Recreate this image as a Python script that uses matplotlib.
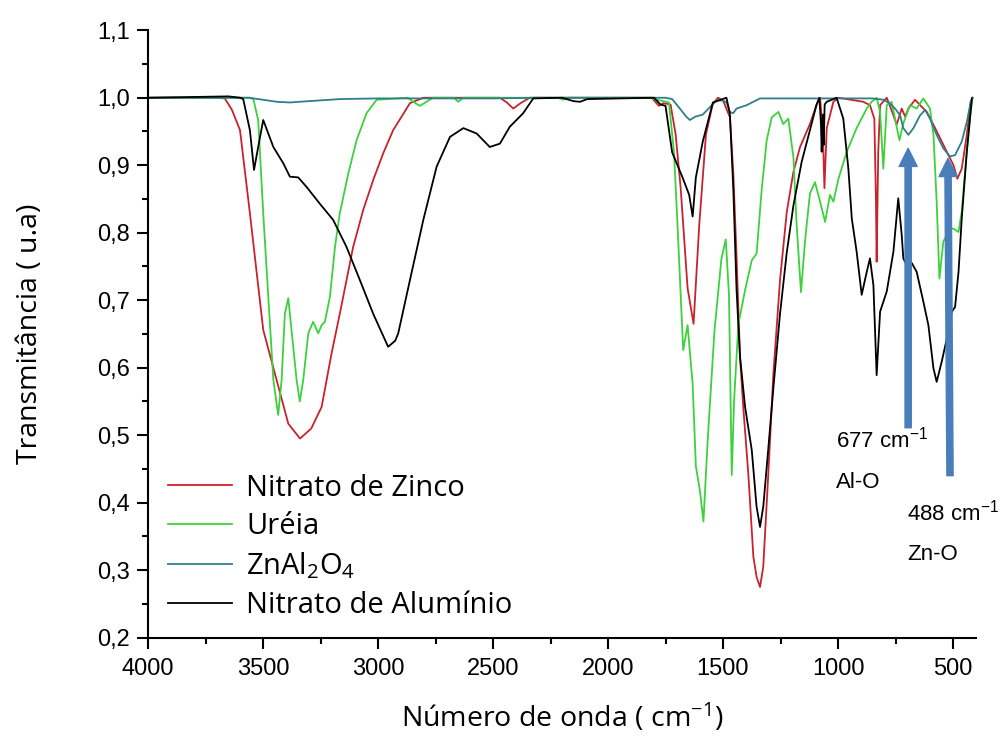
import matplotlib
matplotlib.use("Agg")
import matplotlib.pyplot as plt
from matplotlib.ticker import MultipleLocator, FuncFormatter

plt.rcParams['font.family'] = ['Liberation Sans', 'DejaVu Sans']
plt.rcParams['mathtext.default'] = 'regular'

# --- data ---
series_names = ["Nitrato de Zinco", "Uréia", "ZnAl$_2$O$_4$", "Nitrato de Alumínio"]
series_colors = ["#c8232c", "#3cd23c", "#2f7f8a", "#000000"]

wn_zinco = [4000, 3700, 3666, 3635, 3600, 3557, 3499, 3441, 3390, 3339, 3290, 3245, 3202, 3166,
            3108, 3064, 3021, 2977, 2934, 2861, 2803, 2470, 2440, 2412, 2380, 2340, 1810, 1779,
            1760, 1728, 1706, 1684, 1654, 1628, 1603, 1574, 1545, 1522, 1500, 1470, 1455, 1441,
            1426, 1412, 1390, 1368, 1354, 1339, 1325, 1303, 1281, 1252, 1223, 1194, 1165, 1122,
            1093, 1078, 1066, 1059, 1049, 1020, 998, 890, 861, 842, 835, 832, 825, 817, 788, 759,
            745, 723, 708, 694, 665, 643, 614, 585, 556, 527, 498, 481, 462, 440, 423, 415]
t_zinco = [1.0, 1.0, 0.999, 0.982, 0.952, 0.829, 0.656, 0.582, 0.517, 0.495, 0.51, 0.542, 0.621, 0.68,
           0.779, 0.834, 0.878, 0.918, 0.952, 0.992, 1.0, 1.0, 0.993, 0.984, 0.992, 1.0, 1.0, 0.988,
           0.992, 0.99, 0.946, 0.866, 0.718, 0.665, 0.813, 0.946, 0.99, 1.0, 0.996, 0.971, 0.887, 0.764,
           0.616, 0.542, 0.443, 0.32, 0.29, 0.275, 0.305, 0.443, 0.591, 0.73, 0.83, 0.89, 0.927, 0.961,
           0.99, 1.0, 0.95, 0.866, 0.955, 0.994, 1.0, 0.994, 0.989, 0.969, 0.85, 0.757, 0.92, 0.989, 1.0, 0.974,
           0.96, 0.984, 0.972, 0.984, 0.997, 0.989, 0.979, 0.96, 0.94, 0.92, 0.90, 0.88, 0.895, 0.945, 0.994, 1.0]

wn_ureia = [4000, 3560, 3542, 3521, 3499, 3477, 3455, 3434, 3419, 3405, 3390, 3376, 3354, 3340,
            3325, 3303, 3282, 3260, 3245, 3231, 3209, 3187, 3166, 3129, 3093, 3050, 3006, 2870,
            2847, 2818, 2789, 2760, 2670, 2651, 2630, 2220, 2195, 2170, 1823, 1735, 1713, 1698,
            1684, 1673, 1654, 1632, 1618, 1600, 1585, 1566, 1537, 1507, 1488, 1474, 1462, 1452,
            1433, 1404, 1375, 1354, 1332, 1310, 1288, 1259, 1238, 1216, 1194, 1180, 1161, 1143,
            1122, 1100, 1078, 1056, 1035, 1020, 998, 962, 919, 875, 854, 832, 817, 803, 788, 767,
            752, 733, 716, 687, 658, 629, 600, 585, 571, 559, 542, 513, 498, 476, 462, 440, 423, 415]
t_ureia = [1.0, 1.0, 0.998, 0.967, 0.829, 0.705, 0.582, 0.53, 0.582, 0.68, 0.703, 0.656, 0.582, 0.55,
           0.582, 0.651, 0.668, 0.651, 0.663, 0.668, 0.705, 0.779, 0.829, 0.888, 0.937, 0.977, 0.997, 1.0,
           0.994, 0.988, 0.994, 1.0, 1.0, 0.994, 1.0, 1.0, 0.997, 1.0, 1.0, 0.993, 0.919, 0.813,
           0.708, 0.626, 0.663, 0.576, 0.454, 0.417, 0.372, 0.496, 0.655, 0.761, 0.79, 0.708, 0.441, 0.55,
           0.665, 0.715, 0.759, 0.769, 0.863, 0.937, 0.971, 0.979, 0.961, 0.969, 0.912, 0.813, 0.712, 0.789,
           0.858, 0.875, 0.846, 0.816, 0.856, 0.846, 0.88, 0.92, 0.955, 0.984, 0.994, 1.0, 0.979, 0.895, 0.989, 0.994,
           0.969, 0.937, 0.962, 0.989, 0.984, 0.999, 0.984, 0.945, 0.846, 0.732, 0.787, 0.806, 0.806, 0.801, 0.831, 0.92, 0.979, 1.0]

wn_znal = [4000, 3560, 3500, 3440, 3383, 3300, 3166, 3000, 2500, 2300, 1750, 1721, 1690, 1660, 1644,
           1620, 1588, 1560, 1529, 1500, 1485, 1470, 1456, 1441, 1397, 1339, 1000, 850, 800, 770, 752,
           730, 716, 694, 672, 643, 621, 600, 571, 542, 513, 491, 462, 440, 423, 415]
t_znal = [1.0, 1.0, 0.997, 0.994, 0.993, 0.995, 0.998, 0.999, 0.999, 1.0, 1.0, 0.998, 0.985, 0.972, 0.967,
          0.972, 0.975, 0.985, 0.996, 0.996, 0.993, 0.979, 0.977, 0.984, 0.989, 0.999, 0.999, 0.999, 0.997, 0.99, 0.984,
          0.974, 0.955, 0.945, 0.955, 0.974, 0.982, 0.969, 0.945, 0.925, 0.913, 0.915, 0.935, 0.964, 0.994, 1.0]

wn_aluminio = [4000, 3650, 3600, 3586, 3557, 3539, 3521, 3499, 3477, 3455, 3412, 3383, 3347, 3311,
               3253, 3195, 3137, 3079, 3021, 2956, 2925, 2912, 2861, 2803, 2745, 2687, 2629, 2571,
               2514, 2470, 2427, 2369, 2325, 2200, 2150, 2122, 2090, 1800, 1772, 1750, 1721, 1676,
               1647, 1632, 1618, 1588, 1544, 1485, 1470, 1455, 1441, 1426, 1404, 1375, 1354, 1339,
               1325, 1303, 1281, 1252, 1223, 1194, 1158, 1122, 1093, 1081, 1074, 1071, 1066, 1062,
               1058, 1049, 1006, 977, 955, 940, 919, 897, 875, 861, 846, 832, 817, 788, 759, 738,
               723, 716, 701, 679, 658, 629, 607, 585, 571, 549, 527, 505, 491, 476, 462, 440, 418]
t_aluminio = [1.0, 1.002, 1.0, 0.998, 0.952, 0.893, 0.927, 0.967, 0.947, 0.927, 0.903, 0.883, 0.882, 0.868,
              0.843, 0.819, 0.779, 0.73, 0.68, 0.631, 0.64, 0.651, 0.73, 0.819, 0.898, 0.942, 0.955, 0.947,
              0.927, 0.932, 0.957, 0.977, 0.999, 1.0, 0.995, 0.994, 0.998, 1.0, 0.99, 0.988, 0.919, 0.882,
              0.856, 0.824, 0.882, 0.935, 0.993, 1.0, 0.976, 0.863, 0.715, 0.616, 0.542, 0.478, 0.394, 0.364,
              0.394, 0.48, 0.57, 0.68, 0.77, 0.84, 0.905, 0.952, 0.99, 1.0, 0.96, 0.92, 0.975, 0.93,
              0.99, 0.994, 1.0, 0.969, 0.895, 0.821, 0.772, 0.708, 0.742, 0.762, 0.722, 0.589, 0.683, 0.713, 0.772, 0.851,
              0.797, 0.762, 0.752, 0.755, 0.742, 0.698, 0.663, 0.599, 0.579, 0.609, 0.643, 0.683, 0.69, 0.742, 0.821, 0.92, 0.999]

# band annotations
band_labels = ["677 cm$^{-1}$", "488 cm$^{-1}$"]
band_groups = ["Al-O", "Zn-O"]

fig = plt.figure(figsize=(10, 7.38), dpi=100)
ax = fig.add_axes([0.148, 0.136, 0.828, 0.823])

all_wn = [wn_zinco, wn_ureia, wn_znal, wn_aluminio]
all_t = [t_zinco, t_ureia, t_znal, t_aluminio]
for wn, t, name, c in zip(all_wn, all_t, series_names, series_colors):
    ax.plot(wn, t, color=c, lw=1.3, label=name)

ax.set_xlim(4000, 400)
ax.set_ylim(0.2, 1.1)
ax.xaxis.set_major_locator(MultipleLocator(500))
ax.xaxis.set_minor_locator(MultipleLocator(250))
ax.yaxis.set_major_locator(MultipleLocator(0.1))
ax.yaxis.set_minor_locator(MultipleLocator(0.05))
ax.yaxis.set_major_formatter(FuncFormatter(lambda v, p: ("%.1f" % v).replace(".", ",")))

for s in ["top", "right"]:
    ax.spines[s].set_visible(False)
for s in ["left", "bottom"]:
    ax.spines[s].set_linewidth(1.5)
ax.tick_params(which="major", direction="out", length=8, width=1.5, labelsize=17, pad=5)
ax.tick_params(which="minor", direction="out", length=4, width=1.5)
ax.tick_params(axis="x", which="major", pad=7)

lab_font = ['Open Sans', 'DejaVu Sans']
ax.set_xlabel("Número de onda ( cm$^{-1}$)", fontsize=20.5, family=lab_font)
ax.xaxis.set_label_coords(0.5, -0.105)
ax.xaxis.label.set_va("top")
ax.set_ylabel("Transmitância ( u.a)", fontsize=20.5, family=lab_font)
ax.yaxis.set_label_coords(-0.126, 0.5)

leg = ax.legend(loc="upper left", bbox_to_anchor=(0.024, 0.27), frameon=False,
                prop={'family': lab_font, 'size': 21}, handlelength=2.2, handletextpad=0.48,
                labelspacing=0.33, borderpad=0, borderaxespad=0)

# arrows marking the metal-oxygen bands
arrow_col = "#4a7ebb"
arrow_tail = [(695, 0.511), (513, 0.440)]
arrow_tip = [(695, 0.925), (522, 0.910)]
for tail, tip in zip(arrow_tail, arrow_tip):
    ax.annotate("", xy=tip, xytext=tail,
                arrowprops=dict(arrowstyle="simple,head_width=1.3,head_length=1.3,tail_width=0.45",
                                color=arrow_col, mutation_scale=10, shrinkA=0, shrinkB=0))

ax.text(1009, 0.481, band_labels[0], fontsize=16, va="baseline")
ax.text(1009, 0.422, band_groups[0], fontsize=16, va="baseline")
ax.text(700, 0.374, band_labels[1], fontsize=16, va="baseline")
ax.text(700, 0.315, band_groups[1], fontsize=16, va="baseline")

fig.savefig("out.png", dpi=100)
